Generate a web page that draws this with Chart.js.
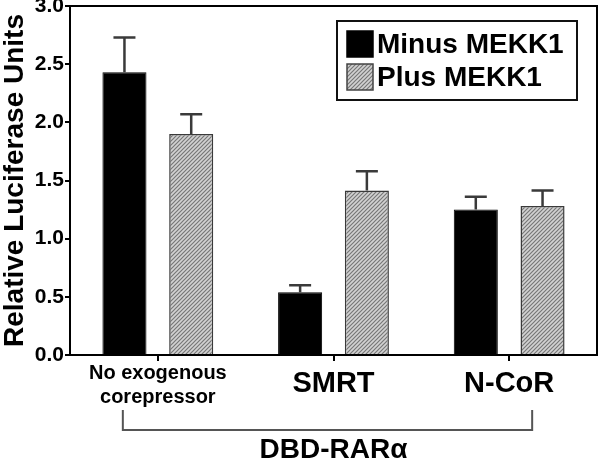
<!DOCTYPE html>
<html><head><meta charset="utf-8">
<script src="https://cdn.jsdelivr.net/npm/chart.js@4"></script>
<style>html,body{margin:0;padding:0;background:#fff}</style></head>
<body><canvas id="c" width="600" height="461"></canvas>
<script>
const categories = [['No exogenous','corepressor'], 'SMRT', 'N-CoR'];
const seriesNames = ['Minus MEKK1', 'Plus MEKK1'];
const minusValues = [2.43, 0.54, 1.25];
const minusErrors = [0.30, 0.06, 0.11];
const plusValues = [1.90, 1.415, 1.28];
const plusErrors = [0.17, 0.165, 0.135];
const yTitle = 'Relative Luciferase Units';
const groupTitle = 'DBD-RARα';
const FONT = "'Liberation Sans', Arial, Helvetica, sans-serif";

function makeHatch() {
  const s = 4;
  const p = document.createElement('canvas');
  p.width = s; p.height = s;
  const g = p.getContext('2d');
  g.fillStyle = '#d2d2d2';
  g.fillRect(0, 0, s, s);
  g.strokeStyle = '#777';
  g.lineWidth = 1.2;
  g.beginPath();
  g.moveTo(-1, s + 1); g.lineTo(s + 1, -1);
  g.moveTo(-1, 1); g.lineTo(1, -1);
  g.moveTo(s - 1, s + 1); g.lineTo(s + 1, s - 1);
  g.stroke();
  return document.getElementById('c').getContext('2d').createPattern(p, 'repeat');
}
const hatch = makeHatch();
const errors = [minusErrors, plusErrors];

const errorBars = {
  id: 'errorBars',
  afterDatasetsDraw(chart) {
    const ctx = chart.ctx, ys = chart.scales.y;
    ctx.save();
    ctx.strokeStyle = '#3a3a3a';
    ctx.lineWidth = 2.5;
    chart.data.datasets.forEach((ds, di) => {
      const meta = chart.getDatasetMeta(di);
      meta.data.forEach((el, i) => {
        const top = ys.getPixelForValue(ds.data[i] + errors[di][i]);
        ctx.beginPath();
        ctx.moveTo(el.x, el.y);
        ctx.lineTo(el.x, top);
        ctx.moveTo(el.x - 11, top);
        ctx.lineTo(el.x + 11, top);
        ctx.stroke();
      });
    });
    ctx.restore();
  }
};

const frameAndExtras = {
  id: 'frameAndExtras',
  afterDraw(chart) {
    const ctx = chart.ctx, a = chart.chartArea, xs = chart.scales.x;
    ctx.save();
    ctx.strokeStyle = '#000';
    ctx.lineWidth = 2;
    ctx.beginPath();
    ctx.moveTo(a.left, a.top);
    ctx.lineTo(a.right, a.top);
    ctx.lineTo(a.right, a.bottom);
    ctx.stroke();
    // bracket under the categories
    const bx1 = xs.getPixelForValue(0) - 35, bx2 = xs.getPixelForValue(2) + 23;
    ctx.strokeStyle = '#555';
    ctx.lineWidth = 2;
    ctx.beginPath();
    ctx.moveTo(bx1, 410); ctx.lineTo(bx1, 430); ctx.lineTo(bx2, 430); ctx.lineTo(bx2, 410);
    ctx.stroke();
    // legend
    const lx = 337, ly = 21, lw = 240, lh = 79;
    ctx.fillStyle = '#fff';
    ctx.fillRect(lx, ly, lw, lh);
    ctx.strokeStyle = '#111';
    ctx.lineWidth = 2;
    ctx.strokeRect(lx, ly, lw, lh);
    const items = [{fill: '#000', border: '#000'}, {fill: hatch, border: '#444'}];
    items.forEach((it, i) => {
      const sy = 31 + i * 33;
      ctx.fillStyle = it.fill;
      ctx.fillRect(347, sy, 26, 26);
      ctx.strokeStyle = it.border;
      ctx.lineWidth = 1.5;
      ctx.strokeRect(347, sy, 26, 26);
      ctx.fillStyle = '#000';
      ctx.font = 'bold 28px ' + FONT;
      ctx.textBaseline = 'middle';
      ctx.textAlign = 'left';
      ctx.fillText(chart.data.datasets[i].label, 377, sy + 14);
    });
    ctx.restore();
  }
};

new Chart(document.getElementById('c'), {
  type: 'bar',
  data: {
    labels: categories,
    datasets: [
      {label: seriesNames[0], data: minusValues, backgroundColor: '#000', borderColor: '#000', borderWidth: 1},
      {label: seriesNames[1], data: plusValues, backgroundColor: hatch, borderColor: '#3a3a3a', borderWidth: 1.5}
    ]
  },
  options: {
    responsive: false,
    animation: false,
    devicePixelRatio: 1,
    layout: {padding: {top: 6, right: 3, left: 0, bottom: 0}},
    datasets: {bar: {barPercentage: 0.66, categoryPercentage: 0.76}},
    plugins: {legend: {display: false}, tooltip: {enabled: false}},
    scales: {
      x: {
        grid: {display: true, drawOnChartArea: false, offset: false, tickLength: 6, color: '#000', lineWidth: 2},
        border: {display: true, color: '#000', width: 2},
        ticks: {
          color: '#000',
          padding: 0,
          maxRotation: 0,
          autoSkip: false,
          font: (ctx) => ctx.index === 0
            ? {family: FONT, size: 20, weight: 'bold', lineHeight: 1.2}
            : {family: FONT, size: 29, weight: 'bold', lineHeight: 1.6}
        },
        title: {display: true, text: groupTitle, color: '#000',
          font: {family: FONT, size: 28, weight: 'bold', lineHeight: 1},
          padding: {top: 0, bottom: -3}},
        afterFit(s) { s.height = 106; }
      },
      y: {
        min: 0, max: 3,
        grid: {display: true, drawOnChartArea: false, tickLength: 5, color: '#000', lineWidth: 2},
        border: {display: true, color: '#000', width: 2},
        ticks: {stepSize: 0.5, color: '#000', padding: 1,
          font: {family: FONT, size: 21, weight: 'bold'},
          callback: (v) => Number(v).toFixed(1)},
        title: {display: true, text: yTitle, color: '#000',
          font: {family: FONT, size: 28, weight: 'bold', lineHeight: 1},
          padding: {top: 1, bottom: 0}},
        afterFit(s) { s.width = 70; s.paddingTop = 0; s.paddingBottom = 0; }
      }
    }
  },
  plugins: [errorBars, frameAndExtras]
});
</script>
</body></html>
